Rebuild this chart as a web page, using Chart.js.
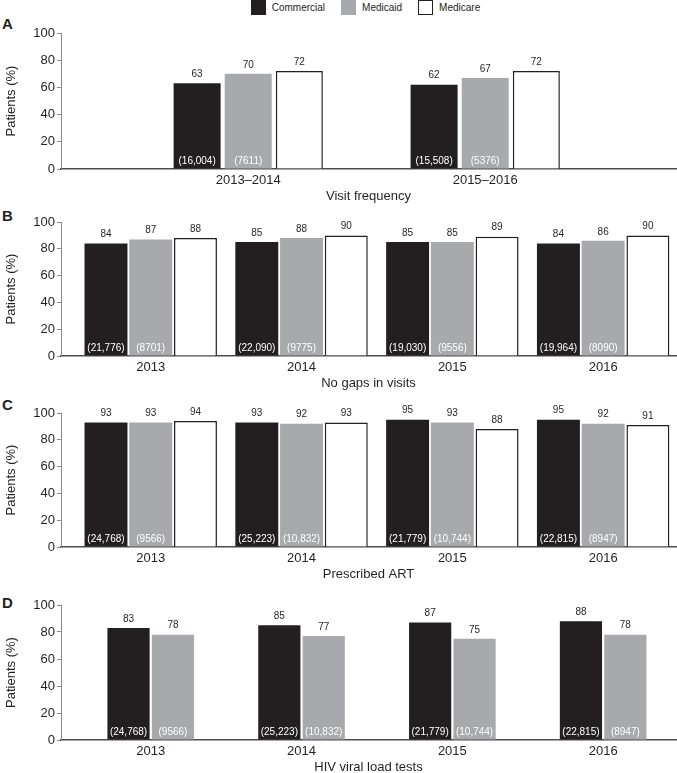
<!DOCTYPE html>
<html>
<head>
<meta charset="utf-8">
<script src="https://cdn.jsdelivr.net/npm/chart.js@4/dist/chart.umd.min.js"></script>
<style>
  body { margin: 0; background: #fff; overflow: hidden; font-family: "Liberation Sans", Arial, sans-serif; color: #231f20; }
  #page { position: relative; width: 677px; height: 773px; }
  .panel { position: absolute; left: 0; width: 677px; }
  .letter { position: absolute; left: 2px; font-weight: bold; font-size: 15px; line-height: 15px; }
  #legend { position: absolute; top: 0px; left: 55px; width: 621px; display: flex; justify-content: center; font-size: 10px; }
  #legend .item { display: flex; align-items: center; margin: 0 8px; }
  #legend .box { width: 15px; height: 15px; box-sizing: border-box; margin-right: 6px; }
</style>
</head>
<body>
<div id="page">
  <div id="legend"></div>
  <div class="letter" style="top:16px">A</div>
  <div class="letter" style="top:208px">B</div>
  <div class="letter" style="top:397px">C</div>
  <div class="letter" style="top:595px">D</div>
  <div class="panel" style="top:21px;height:188px"><canvas id="chartA"></canvas></div>
  <div class="panel" style="top:210px;height:186px"><canvas id="chartB"></canvas></div>
  <div class="panel" style="top:401px;height:186px"><canvas id="chartC"></canvas></div>
  <div class="panel" style="top:593px;height:187px"><canvas id="chartD"></canvas></div>
</div>
<script>
// series
const seriesNames = ['Commercial', 'Medicaid', 'Medicare'];
const seriesFill = ['#231f20', '#a7a9ac', '#ffffff'];

// A - visit frequency
const periodsA = ['2013–2014', '2015–2016'];
const visitCommercial = [63, 62];
const visitMedicaid = [70, 67];
const visitMedicare = [72, 72];
const visitCommercialN = ['16,004', '15,508'];
const visitMedicaidN = ['7611', '5376'];

const years = ['2013', '2014', '2015', '2016'];

// B - no gaps in visits
const gapsCommercial = [84, 85, 85, 84];
const gapsMedicaid = [87, 88, 85, 86];
const gapsMedicare = [88, 90, 89, 90];
const gapsCommercialN = ['21,776', '22,090', '19,030', '19,964'];
const gapsMedicaidN = ['8701', '9775', '9556', '8090'];

// C - prescribed ART
const artCommercial = [93, 93, 95, 95];
const artMedicaid = [93, 92, 93, 92];
const artMedicare = [94, 93, 88, 91];
const artCommercialN = ['24,768', '25,223', '21,779', '22,815'];
const artMedicaidN = ['9566', '10,832', '10,744', '8947'];

// D - HIV viral load tests
const viralCommercial = [83, 85, 87, 88];
const viralMedicaid = [78, 77, 75, 78];
const viralCommercialN = ['24,768', '25,223', '21,779', '22,815'];
const viralMedicaidN = ['9566', '10,832', '10,744', '8947'];

const yTicks = [0, 20, 40, 60, 80, 100];

Chart.defaults.font.family = '"Liberation Sans", Arial, sans-serif';
Chart.defaults.color = '#231f20';

// html legend
const legendEl = document.getElementById('legend');
for (let i = 0; i < seriesNames.length; i++) {
  const border = i === 2 ? '1.5px solid #231f20' : 'none';
  legendEl.insertAdjacentHTML('beforeend',
    `<div class="item"><div class="box" style="background:${seriesFill[i]};border:${border}"></div>${seriesNames[i]}</div>`);
}

// value above each bar, patient count at the foot of the bar
const barLabels = {
  id: 'barLabels',
  afterDatasetsDraw(chart) {
    const ctx = chart.ctx;
    ctx.save();
    ctx.textAlign = 'center';
    ctx.textBaseline = 'bottom';
    ctx.font = '10px "Liberation Sans", Arial, sans-serif';
    chart.data.datasets.forEach((ds, d) => {
      const meta = chart.getDatasetMeta(d);
      meta.data.forEach((bar, i) => {
        ctx.fillStyle = '#231f20';
        ctx.fillText(String(ds.data[i].y), bar.x, bar.y - 4);
        if (ds.counts) {
          ctx.fillStyle = '#ffffff';
          ctx.fillText('(' + ds.counts[i] + ')', bar.x, bar.base - 2);
        }
      });
    });
    ctx.restore();
  }
};

function makeDataset(idx, values, counts) {
  return {
    label: seriesNames[idx],
    data: values.map((v, i) => ({ x: i, y: v })),
    counts: counts,
    backgroundColor: seriesFill[idx],
    borderColor: '#231f20',
    borderWidth: idx === 2 ? 1.5 : 0
  };
}

function makeChart(id, labels, datasets, xTitle, xMin, xMax, catPct, barPct) {
  return new Chart(document.getElementById(id), {
    type: 'bar',
    data: { datasets: datasets },
    plugins: [barLabels],
    options: {
      responsive: true,
      maintainAspectRatio: false,
      animation: false,
      categoryPercentage: catPct,
      barPercentage: barPct,
      layout: { padding: { top: 12, right: 1, left: 0, bottom: 0 } },
      plugins: { legend: { display: false }, tooltip: { enabled: false } },
      scales: {
        x: {
          type: 'linear',
          offset: false,
          min: xMin,
          max: xMax,
          afterBuildTicks: s => { s.ticks = labels.map((_, i) => ({ value: i })); },
          afterFit: s => { s.height = 40; },
          ticks: {
            callback: v => labels[v],
            font: { size: 13 },
            padding: 4,
            autoSkip: false,
            maxRotation: 0
          },
          grid: { display: false, drawTicks: false, offset: false },
          border: { display: true, color: '#4d4d4d', width: 1.5 },
          title: { display: true, text: xTitle, font: { size: 13 }, padding: { top: 0, bottom: 5 } }
        },
        y: {
          min: 0,
          max: 100,
          afterBuildTicks: s => { s.ticks = yTicks.map(v => ({ value: v })); },
          afterFit: s => { s.width = 61; },
          ticks: { font: { size: 13 }, padding: 2 },
          grid: { drawOnChartArea: false, drawTicks: true, tickLength: 4, color: '#8a8a8a' },
          border: { display: true, color: '#8a8a8a', width: 1 },
          title: { display: true, text: 'Patients (%)', font: { size: 13 }, padding: { top: 4 } }
        }
      }
    }
  });
}

makeChart('chartA', periodsA, [
  makeDataset(0, visitCommercial, visitCommercialN),
  makeDataset(1, visitMedicaid, visitMedicaidN),
  makeDataset(2, visitMedicare, null)
], 'Visit frequency', -0.79, 1.805, 0.647, 0.92);

makeChart('chartB', years, [
  makeDataset(0, gapsCommercial, gapsCommercialN),
  makeDataset(1, gapsMedicaid, gapsMedicaidN),
  makeDataset(2, gapsMedicare, null)
], 'No gaps in visits', -0.595, 3.483, 0.89, 0.96);

makeChart('chartC', years, [
  makeDataset(0, artCommercial, artCommercialN),
  makeDataset(1, artMedicaid, artMedicaidN),
  makeDataset(2, artMedicare, null)
], 'Prescribed ART', -0.595, 3.483, 0.89, 0.96);

makeChart('chartD', years, [
  makeDataset(0, viralCommercial, viralCommercialN),
  makeDataset(1, viralMedicaid, viralMedicaidN)
], 'HIV viral load tests', -0.595, 3.483, 0.589, 0.95);
</script>
</body>
</html>
